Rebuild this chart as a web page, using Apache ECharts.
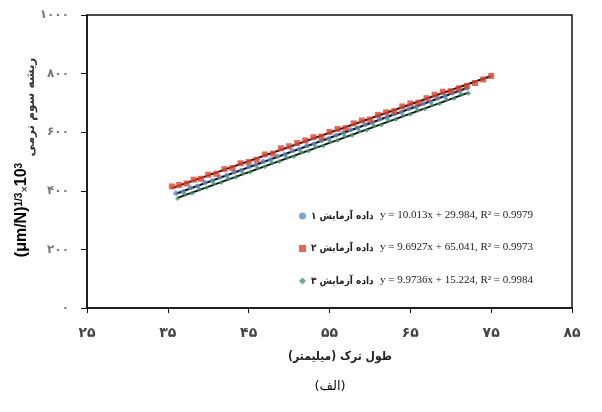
<!DOCTYPE html>
<html>
<head>
<meta charset="utf-8">
<script src="https://cdn.jsdelivr.net/npm/echarts@6/dist/echarts.min.js"></script>
<style>html,body{margin:0;padding:0;background:#fff;}#c{width:602px;height:412px;}</style>
</head>
<body>
<div id="c"></div>
<script>
// ---- data ----
const xTickLabels = ['۲۵','۳۵','۴۵','۵۵','۶۵','۷۵','۸۵'];
const yTickLabels = ['۰','۲۰۰','۴۰۰','۶۰۰','۸۰۰','۱۰۰۰'];
const seriesNames = ['داده آزمایش ۱','داده آزمایش ۲','داده آزمایش ۳'];
const equations = ['y = 10.013x + 29.984, R² = 0.9979','y = 9.6927x + 65.041, R² = 0.9973','y = 9.9736x + 15.224, R² = 0.9984'];

const x1 = [36,36.9,37.8,38.7,39.6,40.5,41.4,42.3,43.2,44.1,45,45.9,46.8,47.7,48.6,49.5,50.4,51.3,52.2,53.1,54,54.9,55.8,56.7,57.6,58.5,59.4,60.3,61.2,62.1,63,63.9,64.8,65.7,66.6,67.5,68.4,69.3,70.2,71.1,72];
const y1 = [392,397,410,416,428,434,446,452,464,470,482,488,500,506,518,524,537,542,554,560,572,578,590,596,608,614,626,632,645,650,662,668,680,686,698,704,716,722,734,740,750];

const x2 = [35.5,36.4,37.3,38.2,39.1,40,41,42,43,44,45,46,47,48,49,50,51,52,53,54,55,56,57,58,59,60,61,62,63,64,65,66,67,68,69,70,71,72,73,74,75];
const y2 = [415,420,425,438,441,455,458,474,478,494,498,506,524,527,545,552,563,572,583,585,601,611,614,630,640,643,659,668,672,688,698,701,716,728,738,740,750,758,768,780,792];

const x3 = [36.2,37.1,38,38.9,39.8,40.7,41.6,42.5,43.4,44.3,45.2,46.1,47,47.9,48.8,49.7,50.6,51.5,52.4,53.3,54.2,55.1,56,56.9,57.8,58.7,59.6,60.5,61.4,62.3,63.2,64.1,65,65.9,66.8,67.7,68.6,69.5,70.4,71.3,72.2];
const y3 = [374,388,392,405,410,424,428,441,446,459,464,478,482,495,500,513,517,531,536,549,553,567,572,585,589,603,607,621,625,639,643,657,661,675,679,693,697,711,715,729,733];

// trend line end points
const trend1X = [36, 72],   trend1Y = [390, 751];
const trend2X = [35.5, 75], trend2Y = [409, 792];
const trend3X = [36.2, 72.2], trend3Y = [376, 735];

// ---- build ----
const zip = (a, b) => a.map((v, i) => [v, b[i]]);
const colors = ['#5b8fc9', '#e2402a', '#3f9a6c'];
const persian = '"DejaVu Sans", sans-serif';
const persianC = '"DejaVu Sans Condensed", "DejaVu Sans", sans-serif';

const chart = echarts.init(document.getElementById('c'));
const trend = (x, y) => ({
  type: 'line', data: zip(x, y), showSymbol: false, symbol: 'none', silent: true,
  lineStyle: { color: '#111', width: 2 }, z: 3
});
const eqText = (i, y) => ({ type: 'text', x: 380, y: y,
  style: { text: equations[i], font: '11px "Liberation Serif", serif', fill: '#222', verticalAlign: 'middle' } });
chart.setOption({
  animation: false,
  grid: { left: 87, right: 30, top: 15, bottom: 104, show: true, borderColor: '#111', borderWidth: 1.5, backgroundColor: 'transparent' },
  xAxis: {
    type: 'value', min: 25, max: 85, interval: 10,
    axisLine: { show: true, lineStyle: { color: '#111', width: 1.5 } },
    axisTick: { show: true, inside: false, length: 5, lineStyle: { color: '#111' } },
    splitLine: { show: false },
    axisLabel: {
      margin: 18, color: '#444', fontSize: 14, fontWeight: 'bold', fontFamily: persian,
      formatter: v => { const i = Math.round((v - 25) / 10); return xTickLabels[i] !== undefined ? xTickLabels[i] : ''; }
    }
  },
  yAxis: {
    type: 'value', min: 0, max: 1000, interval: 200,
    axisLine: { show: true, lineStyle: { color: '#111', width: 1.5 } },
    axisTick: { show: true, inside: false, length: 6, lineStyle: { color: '#111' } },
    splitLine: { show: false },
    axisLabel: {
      margin: 18, color: '#777', fontSize: 12, fontWeight: 'bold', fontFamily: persian,
      formatter: v => { const i = Math.round(v / 200); return yTickLabels[i] !== undefined ? yTickLabels[i] : ''; }
    }
  },
  legend: {
    data: [
      { name: seriesNames[0], icon: 'circle' },
      { name: seriesNames[1], icon: 'rect' },
      { name: seriesNames[2], icon: 'diamond' }
    ],
    orient: 'vertical', left: 294, top: 204, itemWidth: 7, itemHeight: 7, itemGap: 18.5,
    textStyle: { fontSize: 10, fontWeight: 'bold', color: '#222', fontFamily: persianC, lineHeight: 14 },
    selectedMode: false
  },
  graphic: [
    eqText(0, 215), eqText(1, 247.5), eqText(2, 280),
    { type: 'text', x: 22, y: 210, rotation: Math.PI / 2,
      style: {
        text: '{b|(μm/N)}{s|1/3}{x|×}{b|10}{s|3}', align: 'center', verticalAlign: 'middle',
        rich: {
          b: { fontSize: 16, fontWeight: 'bold', fontFamily: 'Liberation Sans, Arial, sans-serif', color: '#111' },
          s: { fontSize: 10, fontWeight: 'bold', fontFamily: 'Liberation Sans, Arial, sans-serif', verticalAlign: 'top', color: '#111' },
          x: { fontSize: 11, fontFamily: 'Liberation Sans, Arial, sans-serif', verticalAlign: 'bottom', color: '#111' }
        }
      }
    },
    { type: 'text', x: 31, y: 107, rotation: Math.PI / 2,
      style: { text: 'ریشه سوم نرمی', align: 'center', verticalAlign: 'middle', font: 'bold 12px "DejaVu Sans", sans-serif', fill: '#333' } },
    { type: 'text', x: 340, y: 357, style: { text: 'طول ترک (میلیمتر)', align: 'center', verticalAlign: 'middle', font: 'bold 12px "DejaVu Sans Condensed", "DejaVu Sans", sans-serif', fill: '#222' } },
    { type: 'text', x: 330, y: 387, style: { text: '(الف)', align: 'center', verticalAlign: 'middle', font: '13px "DejaVu Sans", sans-serif', fill: '#111' } }
  ],
  series: [
    Object.assign(trend(trend1X, trend1Y), { z: 2 }),
    { name: seriesNames[0], type: 'scatter', data: zip(x1, y1), symbol: 'circle', symbolSize: 5, itemStyle: { color: colors[0] }, z: 3 },
    { name: seriesNames[1], type: 'scatter', data: zip(x2, y2), symbol: 'rect', symbolSize: 6, itemStyle: { color: colors[1] }, z: 3 },
    { name: seriesNames[2], type: 'scatter', data: zip(x3, y3), symbol: 'diamond', symbolSize: 5, itemStyle: { color: colors[2] }, z: 3 },
    trend(trend2X, trend2Y),
    trend(trend3X, trend3Y)
  ]
});
</script>
</body>
</html>
